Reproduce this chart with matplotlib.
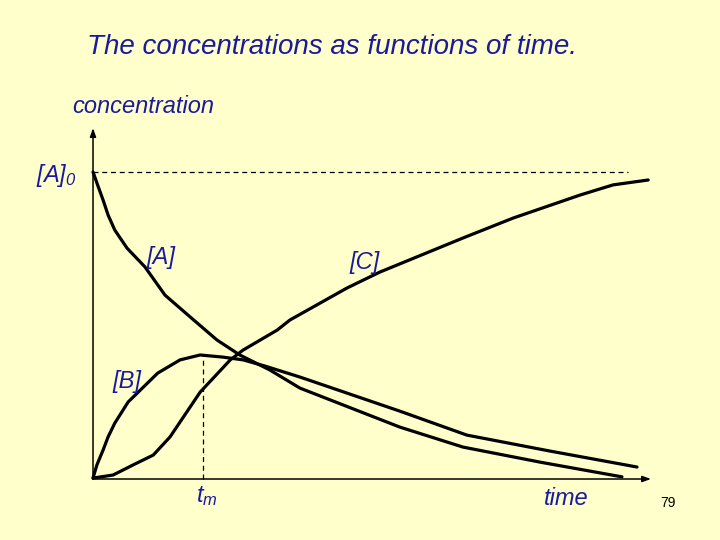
import numpy as np
import matplotlib
matplotlib.use("Agg")
import matplotlib.pyplot as plt

plt.rcParams['font.family'] = ['Liberation Sans', 'DejaVu Sans']
plt.rcParams['mathtext.fontset'] = 'custom'
plt.rcParams['mathtext.it'] = 'Liberation Sans:italic'
plt.rcParams['mathtext.rm'] = 'Liberation Sans:italic'

# concentrations (time 0..10, [A]0 = 1)
t_A = [0, 0.09, 0.18, 0.27, 0.39, 0.61, 0.93, 1.29, 1.74, 2.22, 2.63, 3.17, 3.71, 5.50, 6.63, 8.01, 9.48]
c_A = [1.0, 0.954, 0.909, 0.860, 0.811, 0.752, 0.691, 0.599, 0.528, 0.453, 0.404, 0.355, 0.296, 0.169, 0.104, 0.055, 0.007]

t_B = [0, 0.07, 0.18, 0.27, 0.39, 0.63, 1.16, 1.56, 1.92, 2.33, 2.69, 3.08, 3.71, 5.50, 6.70, 8.19, 9.75]
c_B = [0.003, 0.046, 0.094, 0.137, 0.182, 0.251, 0.345, 0.388, 0.404, 0.397, 0.388, 0.368, 0.332, 0.221, 0.143, 0.091, 0.039]

t_C = [0, 0.36, 0.72, 1.08, 1.38, 1.92, 2.46, 2.69, 3.30, 3.53, 4.55, 5.14, 6.63, 7.53, 8.73, 9.32, 9.95]
c_C = [0.003, 0.013, 0.046, 0.078, 0.137, 0.283, 0.388, 0.420, 0.485, 0.518, 0.622, 0.674, 0.785, 0.850, 0.925, 0.958, 0.974]

A0 = 1.0
t_max = 1.97      # time of B maximum
c_Bmax = 0.404

bg = '#FFFFCC'
blue = '#1a1a9e'

fig = plt.figure(figsize=(7.2, 5.4), dpi=100, facecolor=bg)
ax = fig.add_axes([0, 0, 1, 1])
ax.set_facecolor(bg)
ax.set_xlim(-1.667, 11.237)
ax.set_ylim(-0.1987, 1.5603)
ax.axis('off')

# axes with arrows
arr = dict(arrowstyle='-|>,head_width=0.18,head_length=0.5', lw=1.1, color='black', shrinkA=0, shrinkB=0)
ax.annotate('', xy=(0, 1.143), xytext=(0, 0), arrowprops=arr)
ax.annotate('', xy=(10, 0), xytext=(0, 0), arrowprops=arr)

# guide lines
ax.plot([0, 9.59], [A0, A0], ls=(0, (4, 3)), lw=0.9, color='black')
ax.plot([t_max, t_max], [0, c_Bmax], ls=(0, (4, 3)), lw=0.9, color='black')

for t, c in [(t_A, c_A), (t_B, c_B), (t_C, c_C)]:
    ax.plot(t, c, color='black', lw=2.3, solid_joinstyle='round', solid_capstyle='round')

ax.text(4.28, 1.407, 'The concentrations as functions of time.', fontsize=20,
        style='italic', color=blue, ha='center', va='center')
ax.text(0.90, 1.212, 'concentration', fontsize=17, style='italic', color=blue,
        ha='center', va='center')
ax.text(-1.02, 0.967, r'$[A]_0$', fontsize=17, color=blue, ha='left', va='baseline')
ax.text(1.22, 0.723, '[A]', fontsize=17, style='italic', color=blue, ha='center', va='center')
ax.text(4.87, 0.704, '[C]', fontsize=17, style='italic', color=blue, ha='center', va='center')
ax.text(0.61, 0.319, '[B]', fontsize=17, style='italic', color=blue, ha='center', va='center')
ax.text(2.04, -0.074, r'$t_m$', fontsize=17, color=blue, ha='center', va='baseline')
ax.text(8.48, -0.062, 'time', fontsize=17, style='italic', color=blue, ha='center', va='center')
ax.text(10.30, -0.078, '79', fontsize=10, color='black', ha='center', va='center')

fig.savefig('out.png', dpi=100, facecolor=bg)
